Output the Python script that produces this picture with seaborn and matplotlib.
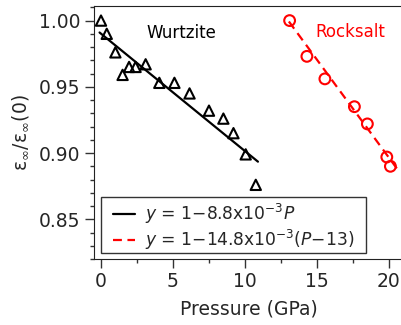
import matplotlib
matplotlib.use("Agg")
import matplotlib.pyplot as plt
import seaborn as sns
from matplotlib.ticker import MultipleLocator
from matplotlib.patches import Rectangle

sns.set_style("ticks")
plt.rcParams['font.family'] = ['DejaVu Sans']

# Wurtzite data
wz_p = [0.0, 0.4, 1.0, 1.5, 1.95, 2.4, 3.1, 4.05, 5.1, 6.15, 7.5, 8.5, 9.2, 10.05, 10.75]
wz_y = [1.000, 0.990, 0.976, 0.959, 0.965, 0.965, 0.967, 0.953, 0.953, 0.945, 0.932, 0.926, 0.915, 0.899, 0.876]
# Rocksalt data
rs_p = [13.1, 14.3, 15.55, 17.6, 18.5, 19.85, 20.1]
rs_y = [1.000, 0.973, 0.956, 0.935, 0.922, 0.897, 0.890]
# Fit lines (endpoints)
wz_fit_p = [-0.1, 10.9]
wz_fit_y = [0.991, 0.8935]
rs_fit_p = [13.05, 20.6]
rs_fit_y = [0.9993, 0.8876]

wz_label = r"$y$ = 1$-$8.8x10$^{-3}$$P$"
rs_label = r"$y$ = 1$-$14.8x10$^{-3}$($P$$-$13)"

fig = plt.figure(figsize=(4.01, 3.25), dpi=100)
ax = fig.add_axes([0.2339, 0.203, 0.772, 0.7785])

sns.lineplot(x=wz_fit_p, y=wz_fit_y, ax=ax, color='black', lw=1.6, label=wz_label)
sns.lineplot(x=rs_fit_p, y=rs_fit_y, ax=ax, color='red', lw=1.6, linestyle=(0, (4, 2.5)), label=rs_label)

sns.scatterplot(x=wz_p, y=wz_y, ax=ax, marker='^', s=55, facecolor='none',
                edgecolor='black', linewidth=1.5, zorder=3)
sns.scatterplot(x=rs_p, y=rs_y, ax=ax, marker='o', s=60, facecolor='none',
                edgecolor='red', linewidth=1.5, zorder=3)

ax.set_xlim(-0.5, 21)
ax.set_ylim(0.82, 1.011)
ax.set_xticks([0, 5, 10, 15, 20])
ax.set_yticks([0.85, 0.90, 0.95, 1.00])
ax.xaxis.set_minor_locator(MultipleLocator(2.5))
ax.yaxis.set_minor_locator(MultipleLocator(0.01))
ax.tick_params(which='major', length=6.5, width=1, labelsize=13.5, pad=3, color='#333333')
ax.tick_params(which='minor', length=3, width=1, color='#333333')
for s in ax.spines.values():
    s.set_color('#222222')
ax.spines['right'].set_visible(False)

ax.set_xlabel("Pressure (GPa)", fontsize=13.5, labelpad=6)
ax.set_ylabel(r"ε$_\infty$/ε$_\infty$(0)", fontsize=13.5, labelpad=6)

ax.text(5.6, 0.9905, "Wurtzite", fontsize=12, color='black', ha='center', va='center')
ax.text(17.35, 0.9917, "Rocksalt", fontsize=12, color='red', ha='center', va='center')

leg = ax.legend(loc='center left', bbox_to_anchor=(0.062, 0.127), fontsize=12.3,
                frameon=False, handlelength=1.3, handletextpad=0.56, borderpad=0,
                labelspacing=0.08, borderaxespad=0)
# legend frame box
ax.add_patch(Rectangle((0.0242, 0.0249), 0.854, 0.219, transform=ax.transAxes,
                       facecolor='white', edgecolor='#333333', lw=1.0, zorder=4))
leg.set_zorder(5)

fig.savefig("out.png", dpi=100)
